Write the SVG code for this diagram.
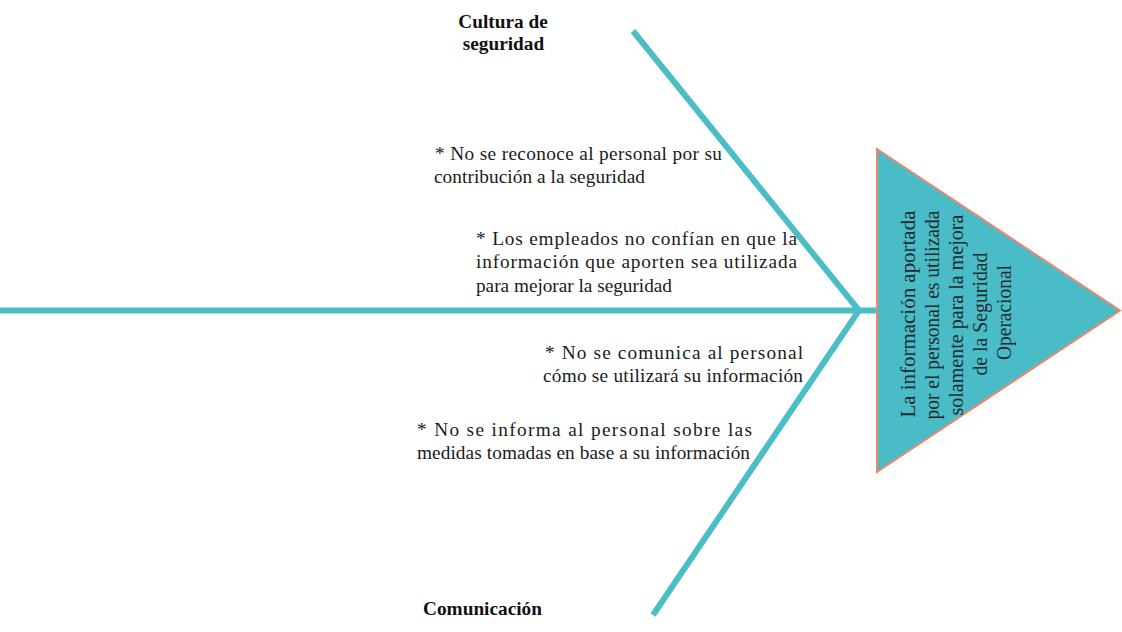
<svg xmlns="http://www.w3.org/2000/svg" width="1122" height="632" viewBox="0 0 1122 632">
<style>
.bone{fill:none;stroke:#4BBDC7;stroke-width:6;stroke-linejoin:miter;stroke-miterlimit:10}
.t{font-family:"Liberation Serif","Times New Roman",serif;font-size:19.3px;fill:#1a1a1a}
.h{font-family:"Liberation Serif","Times New Roman",serif;font-size:19.3px;font-weight:bold;fill:#111;text-anchor:middle}
.e{font-family:"Liberation Serif","Times New Roman",serif;font-size:20.5px;fill:#1f2a2c;text-anchor:middle}
</style>
<rect width="1122" height="632" fill="#ffffff"/>
<g id="connectors">
<line class="bone" x1="0" y1="310.5" x2="878" y2="310.5"/>
<polyline class="bone" points="633,31 859,310.5 653,615"/>
</g>
<g id="effect">
<polygon points="877,149 877,472 1120,310.5" fill="#4ABCC7" stroke="#F0876C" stroke-width="2"/>
<text class="e" transform="rotate(-90)">
<tspan x="-311.5" y="915" textLength="207" lengthAdjust="spacingAndGlyphs">La información aportada</tspan>
<tspan x="-312.5" y="939" textLength="209" lengthAdjust="spacingAndGlyphs">por el personal es utilizada</tspan>
<tspan x="-312.5" y="963" textLength="201" lengthAdjust="spacingAndGlyphs">solamente para la mejora</tspan>
<tspan x="-311.5" y="987" textLength="123" lengthAdjust="spacingAndGlyphs">de la Seguridad</tspan>
<tspan x="-312.5" y="1011" textLength="95" lengthAdjust="spacingAndGlyphs">Operacional</tspan>
</text>
</g>
<g id="cat-cultura">
<text class="h"><tspan x="503" y="28">Cultura de</tspan><tspan x="503.5" y="50">seguridad</tspan></text>
</g>
<g id="cat-comunicacion">
<text class="h" x="482.5" y="615">Comunicación</text>
</g>
<g id="cause-1">
<text class="t"><tspan x="435" y="160" textLength="287" lengthAdjust="spacing">* No se reconoce al personal por su</tspan><tspan x="434" y="183" textLength="211" lengthAdjust="spacing">contribución a la seguridad</tspan></text>
</g>
<g id="cause-2">
<text class="t"><tspan x="476" y="245" textLength="321" lengthAdjust="spacing">* Los empleados no confían en que la</tspan><tspan x="476" y="268" textLength="321" lengthAdjust="spacing">información que aporten sea utilizada</tspan><tspan x="476" y="292" textLength="196" lengthAdjust="spacing">para mejorar la seguridad</tspan></text>
</g>
<g id="cause-3">
<text class="t"><tspan x="545" y="359" textLength="258" lengthAdjust="spacing">* No se comunica al personal</tspan><tspan x="543" y="382" textLength="260" lengthAdjust="spacing">cómo se utilizará su información</tspan></text>
</g>
<g id="cause-4">
<text class="t"><tspan x="417" y="436" textLength="335" lengthAdjust="spacing">* No se informa al personal sobre las</tspan><tspan x="417" y="459" textLength="333" lengthAdjust="spacing">medidas tomadas en base a su información</tspan></text>
</g>
</svg>
